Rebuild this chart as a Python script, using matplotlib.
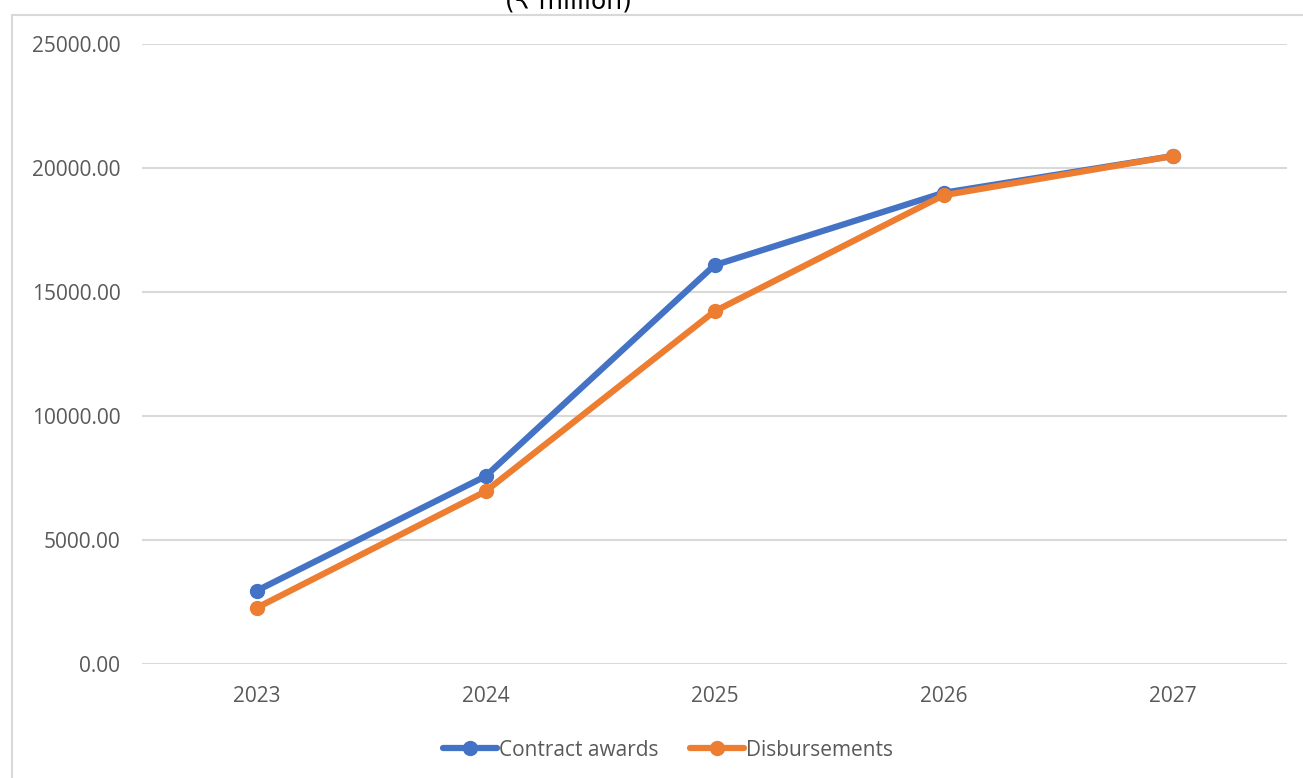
import matplotlib
matplotlib.use("Agg")
import matplotlib.pyplot as plt
from matplotlib.patches import Rectangle

years = ["2023", "2024", "2025", "2026", "2027"]
contract_awards = [2950, 7570, 16080, 19000, 20480]
disbursements = [2260, 6960, 14220, 18900, 20480]
yticks = [0, 5000, 10000, 15000, 20000, 25000]

BLUE = "#4472C4"
ORANGE = "#ED7D31"
GRID = "#D9D9D9"
TXT = "#595959"

plt.rcParams["font.family"] = ["Open Sans", "DejaVu Sans"]

fig = plt.figure(figsize=(13.03, 7.78), dpi=100)
ax = fig.add_axes([142 / 1303, 1 - 664 / 778, (1287 - 142) / 1303, (664 - 44) / 778])

# chart frame, cropped on the right and bottom like the screenshot
fig.patches.append(Rectangle((12 / 1303, -0.1), 1.2, 1 - 15 / 778 + 0.1,
                             transform=fig.transFigure, fill=False,
                             edgecolor=GRID, linewidth=1.5))
# title is cut off by the screenshot's top edge
fig.text(568 / 1303, 1 - 13 / 778, "(\u20b9 million)", ha="center", va="bottom",
         fontsize=18, color="black", family=["DejaVu Sans"])

x = list(range(len(years)))
ax.plot(x, contract_awards, color=BLUE, linewidth=4.5, marker="o", markersize=10,
        solid_capstyle="round", label="Contract awards", zorder=3)
ax.plot(x, disbursements, color=ORANGE, linewidth=4.5, marker="o", markersize=10,
        solid_capstyle="round", label="Disbursements", zorder=4)

ax.set_xlim(-0.5, len(years) - 0.5)
ax.set_ylim(0, 25000)
ax.set_yticks(yticks)
ax.set_yticklabels([f"{v:.2f}" for v in yticks])
ax.set_xticks(x)
ax.set_xticklabels(years)
ax.tick_params(length=0, labelsize=15, labelcolor=TXT)
ax.tick_params(axis="y", pad=15.5)
ax.tick_params(axis="x", pad=16)
ax.grid(axis="y", color=GRID, linewidth=1.5)
ax.set_axisbelow(True)
for s in ax.spines.values():
    s.set_visible(False)

leg = ax.legend(loc="center", bbox_to_anchor=(668 / 1303, 1 - 750 / 778),
                bbox_transform=fig.transFigure, ncol=2, frameon=False,
                fontsize=15, handlelength=2.6, handletextpad=0.1,
                columnspacing=1.5)
for t in leg.get_texts():
    t.set_color(TXT)

fig.savefig("out.png", dpi=100)
